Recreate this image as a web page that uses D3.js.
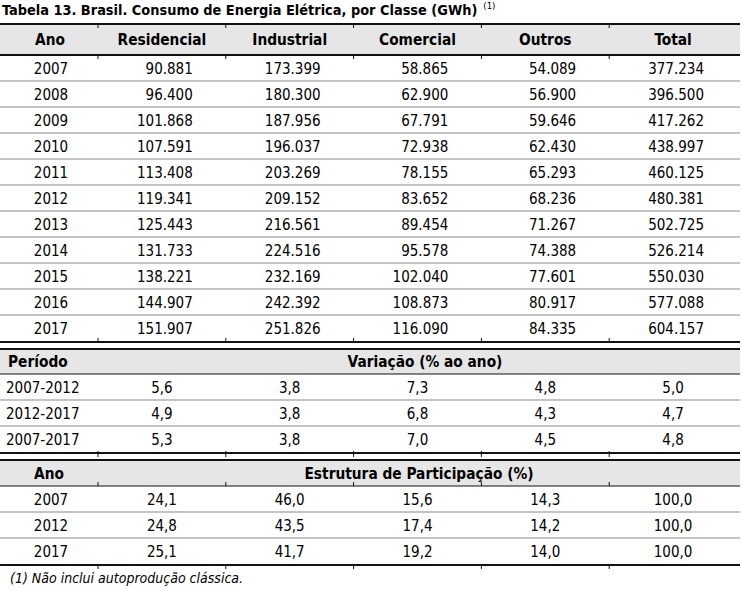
<!DOCTYPE html>
<html><head><meta charset="utf-8">
<script src="https://cdn.jsdelivr.net/npm/d3@7"></script>
<style>
html,body{margin:0;padding:0;background:#fff;}
svg{display:block;font-family:"DejaVu Sans Condensed","DejaVu Sans",sans-serif;}
</style></head><body>
<svg id="chart" width="742" height="591"></svg>
<script>
// ---------- DATA ----------
const title = "Tabela 13. Brasil. Consumo de Energia Elétrica, por Classe (GWh)";
const titleNote = "(1)";
const footnote = "(1) Não inclui autoprodução clássica.";
const columns = ["Ano", "Residencial", "Industrial", "Comercial", "Outros", "Total"];

const years = [2007, 2008, 2009, 2010, 2011, 2012, 2013, 2014, 2015, 2016, 2017];
const residencial = [90881, 96400, 101868, 107591, 113408, 119341, 125443, 131733, 138221, 144907, 151907];
const industrial = [173399, 180300, 187956, 196037, 203269, 209152, 216561, 224516, 232169, 242392, 251826];
const comercial = [58865, 62900, 67791, 72938, 78155, 83652, 89454, 95578, 102040, 108873, 116090];
const outros = [54089, 56900, 59646, 62430, 65293, 68236, 71267, 74388, 77601, 80917, 84335];
const total = [377234, 396500, 417262, 438997, 460125, 480381, 502725, 526214, 550030, 577088, 604157];

const periodLabel = "Período";
const variationTitle = "Variação (% ao ano)";
const periods = ["2007-2012", "2012-2017", "2007-2017"];
const varResidencial = [5.6, 4.9, 5.3];
const varIndustrial = [3.8, 3.8, 3.8];
const varComercial = [7.3, 6.8, 7.0];
const varOutros = [4.8, 4.3, 4.5];
const varTotal = [5.0, 4.7, 4.8];

const structLabel = "Ano";
const structTitle = "Estrutura de Participação (%)";
const structYears = [2007, 2012, 2017];
const strResidencial = [24.1, 24.8, 25.1];
const strIndustrial = [46.0, 43.5, 41.7];
const strComercial = [15.6, 17.4, 19.2];
const strOutros = [14.3, 14.2, 14.0];
const strTotal = [100.0, 100.0, 100.0];

// ---------- FORMAT ----------
const br = d3.formatLocale({decimal: ",", thousands: ".", grouping: [3], currency: ["R$", ""]});
const fmtInt = br.format(",d");
const fmt1 = br.format(".1f");

// ---------- LAYOUT ----------
const svg = d3.select("#chart");
const valueCols = columns.slice(1);
const x = d3.scaleBand().domain(valueCols).range([98, 737]);
const tableLeft = 0, tableRight = 740;
const firstColCenter = 50;
const rightPad = 33;

const y1 = d3.scaleBand().domain(years).range([55, 341]);
const y2 = d3.scaleBand().domain(periods).range([374, 452]);
const y3 = d3.scaleBand().domain(structYears).range([486, 564]);

const dark = "#111", grey = "#c4c4c4", band = "#e6e6e6";
const fs = 15, fsb = 15.3;

// title
const t = svg.append("text").attr("x", 2).attr("y", 15)
  .attr("font-size", 14.4).attr("font-weight", "bold").attr("fill", "#000").text(title);
svg.append("text").attr("x", 2 + t.node().getComputedTextLength() + 6).attr("y", 9)
  .attr("font-size", 9.5).attr("fill", "#000").text(titleNote);

// header bands
function bandRect(y0, y1v) {
  svg.append("rect").attr("x", tableLeft).attr("y", y0).attr("width", tableRight - tableLeft)
    .attr("height", y1v - y0).attr("fill", band);
}
bandRect(24, 55);
bandRect(349, 374);
bandRect(460, 486);

// grey separators
function seps(scale, domain) {
  svg.append("g").selectAll("line").data(domain.slice(1)).join("line")
    .attr("x1", tableLeft).attr("x2", tableRight)
    .attr("y1", d => scale(d)).attr("y2", d => scale(d))
    .attr("stroke", grey).attr("stroke-width", 2);
}
seps(y1, years);
seps(y2, periods);
seps(y3, structYears);

// dark rules
const darkRules = [24, 55, 342, 349, 374, 453, 460, 486, 565];
svg.append("g").selectAll("line").data(darkRules).join("line")
  .attr("x1", tableLeft).attr("x2", tableRight)
  .attr("y1", d => d).attr("y2", d => d)
  .attr("stroke", dark).attr("stroke-width", d => (d === 374 || d === 486) ? 1.2 : 1.8);

// little column ticks
const tickSpots = [[25, 3], [56, 3], [341, -3], [451, 6], [482, 4], [566, 3]];
const edges = valueCols.map(c => x(c));
tickSpots.forEach(([yy, dy]) => {
  svg.append("g").selectAll("line").data(edges).join("line")
    .attr("x1", d => d).attr("x2", d => d).attr("y1", yy).attr("y2", yy + dy)
    .attr("stroke", dark).attr("stroke-width", 1);
});

// header row
const hdr = svg.append("g").attr("font-weight", "bold").attr("font-size", fsb).attr("fill", "#000");
hdr.append("text").attr("x", firstColCenter).attr("y", 45).attr("text-anchor", "middle").text(columns[0]);
hdr.selectAll("text.c").data(valueCols).join("text").attr("class", "c")
  .attr("x", d => x(d) + x.bandwidth() / 2).attr("y", 45).attr("text-anchor", "middle").text(d => d);

// section 1
const series1 = [residencial, industrial, comercial, outros, total];
const g1 = svg.append("g").attr("font-size", fs).attr("fill", "#000");
years.forEach((yr, i) => {
  const yy = y1(yr) + y1.bandwidth() / 2 + 5.5;
  g1.append("text").attr("x", firstColCenter + 1).attr("y", yy).attr("text-anchor", "middle").text(yr);
  valueCols.forEach((c, j) => {
    g1.append("text").attr("x", x(c) + x.bandwidth() - rightPad).attr("y", yy)
      .attr("text-anchor", "end").text(fmtInt(series1[j][i]));
  });
});

// section 2
const sec2hdr = svg.append("g").attr("font-weight", "bold").attr("font-size", fsb).attr("fill", "#000");
sec2hdr.append("text").attr("x", 8).attr("y", 367).text(periodLabel);
sec2hdr.append("text").attr("x", (x.range()[0] + tableRight) / 2 + 6).attr("y", 367).attr("text-anchor", "middle").text(variationTitle);
const series2 = [varResidencial, varIndustrial, varComercial, varOutros, varTotal];
const g2 = svg.append("g").attr("font-size", fs).attr("fill", "#000");
periods.forEach((p, i) => {
  const yy = y2(p) + y2.bandwidth() / 2 + 5.5;
  g2.append("text").attr("x", 6).attr("y", yy).text(p);
  valueCols.forEach((c, j) => {
    g2.append("text").attr("x", x(c) + x.bandwidth() / 2).attr("y", yy)
      .attr("text-anchor", "middle").text(fmt1(series2[j][i]));
  });
});

// section 3
const sec3hdr = svg.append("g").attr("font-weight", "bold").attr("font-size", fsb).attr("fill", "#000");
sec3hdr.append("text").attr("x", 34).attr("y", 479).text(structLabel);
sec3hdr.append("text").attr("x", (x.range()[0] + tableRight) / 2).attr("y", 479).attr("text-anchor", "middle").text(structTitle);
const series3 = [strResidencial, strIndustrial, strComercial, strOutros, strTotal];
const g3 = svg.append("g").attr("font-size", fs).attr("fill", "#000");
structYears.forEach((yr, i) => {
  const yy = y3(yr) + y3.bandwidth() / 2 + 5.5;
  g3.append("text").attr("x", firstColCenter + 1).attr("y", yy).attr("text-anchor", "middle").text(yr);
  valueCols.forEach((c, j) => {
    g3.append("text").attr("x", x(c) + x.bandwidth() / 2).attr("y", yy)
      .attr("text-anchor", "middle").text(fmt1(series3[j][i]));
  });
});

// footnote
svg.append("text").attr("x", 10).attr("y", 583).attr("font-size", 14).attr("font-style", "italic")
  .attr("fill", "#000").text(footnote);
</script>
</body></html>
